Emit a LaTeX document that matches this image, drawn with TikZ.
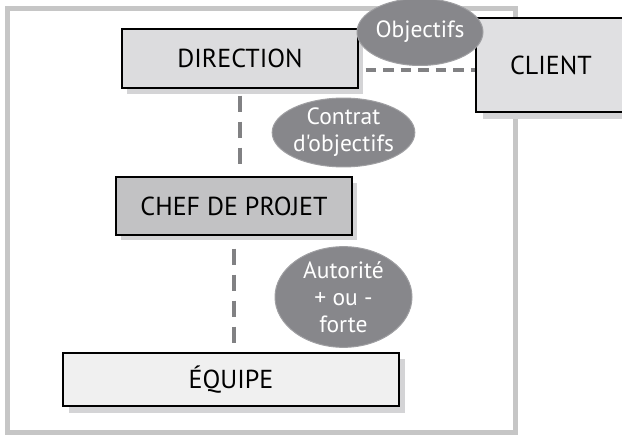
\documentclass[tikz,border=0pt]{standalone}
\usepackage{fontspec}
\setmainfont{PT Sans}[Ligatures=TeXOff]
\usetikzlibrary{shapes.geometric}
\definecolor{framegray}{HTML}{C6C6C6}
\definecolor{shadowgray}{HTML}{D4D4D6}
\definecolor{bubblegray}{HTML}{87878B}
\definecolor{linkgray}{HTML}{818183}
\definecolor{dirfill}{HTML}{DCDCDE}
\definecolor{cheffill}{HTML}{C2C2C4}
\definecolor{equipefill}{HTML}{F0F0F0}
\definecolor{clientfill}{HTML}{E0E0E2}
\tikzset{
  box/.style={draw=black, line width=1.3pt, inner sep=0pt, font=\fontsize{26}{30}\selectfont,
    text=black},
  bubble/.style={ellipse, fill=bubblegray, draw=bubblegray!80!white, line width=1pt, inner sep=0pt,
    text=white, align=center, font=\fontsize{23.5}{27}\selectfont},
  vlink/.style={draw=linkgray, line width=4.2pt, dash pattern=on 16pt off 10pt},
  hlink/.style={draw=linkgray, line width=4pt, dash pattern=on 10.5pt off 7pt},
}
\begin{document}
\begin{tikzpicture}[x=1pt, y=-1pt]
  \useasboundingbox (0,0) rectangle (622,435);
  \clip (0,0) rectangle (622,435);
  % outer frame
  \draw[framegray, line width=4.5pt] (7.5,8.5) rectangle (515.5,432.5);

  % drop shadows behind the boxes
  \fill[shadowgray] (127,35) rectangle (363,94);
  \fill[shadowgray] (121,183) rectangle (357,240);
  \fill[shadowgray] (69,359) rectangle (405,413);
  \fill[shadowgray] (483,24) rectangle (640,119);

  % boxes
  \node[box, fill=dirfill, minimum width=236pt, minimum height=59pt] (dir) at (240,58.5) {DIRECTION};
  \node[box, fill=cheffill, minimum width=236pt, minimum height=58pt] (chef) at (234,206) {CHEF DE PROJET};
  \node[box, fill=equipefill, minimum width=336pt, minimum height=53pt] (equipe) at (231,379.5) {ÉQUIPE};
  \node[box, fill=clientfill, minimum width=150pt, minimum height=94pt] (client) at (551,65) {\raisebox{-3pt}{CLIENT}};

  % dashed links
  \draw[vlink] ([yshift=-7pt]dir.south) -- ([yshift=4pt]chef.north -| dir.south);
  \draw[vlink] ([yshift=-13pt]chef.south) -- ([yshift=8pt]equipe.north -| chef.south);
  \draw[hlink] ([xshift=7pt]dir.east |- 0,70.5) -- (client.west |- 0,70.5);

  % labels on links
  \node[bubble, minimum width=126pt, minimum height=67pt] (obj) at (420,32) {Objectifs};
  \node[bubble, minimum width=125pt, minimum height=65pt] (contrat) at (343.5,132.5) {Contrat\\d'objectifs};
  \node[bubble, minimum width=137pt, minimum height=90pt] (autorite) at (343.5,297) {Autorité\\+ ou -\\forte};
\end{tikzpicture}
\end{document}
